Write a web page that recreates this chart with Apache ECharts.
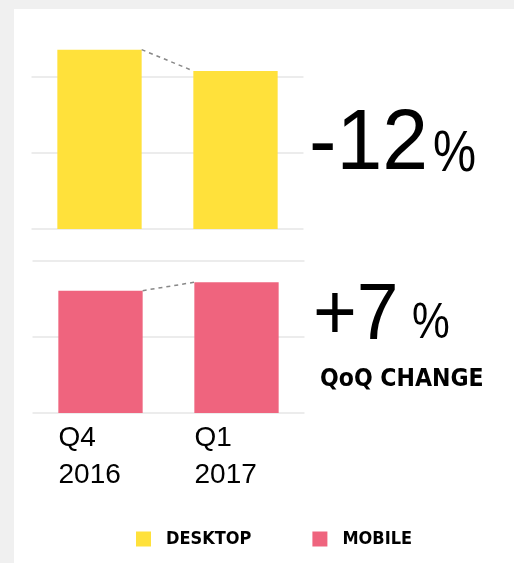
<!DOCTYPE html>
<html>
<head>
<meta charset="utf-8">
<script src="https://cdn.jsdelivr.net/npm/echarts@6/dist/echarts.min.js"></script>
<style>
html,body{margin:0;padding:0;background:#f0f0f0;width:514px;height:563px;overflow:hidden;}
#panel{position:absolute;left:14px;top:9px;width:500px;height:554px;background:#fff;}
#chart{position:absolute;left:0;top:0;width:514px;height:563px;}
</style>
</head>
<body>
<div id="panel"></div>
<div id="chart"></div>
<script>
// ---- data ----
const categories = ['Q4\n2016', 'Q1\n2017'];
const desktop = [2.36, 2.08];
const mobile = [1.61, 1.72];
const seriesNames = ['DESKTOP', 'MOBILE'];
const changeValues = ['-12', '+7'];
const changeCaption = 'QoQ CHANGE';

const YELLOW = '#FFE13B';
const PINK = '#EF647E';
const FONT = '"Liberation Sans", Arial, sans-serif';
const COND = '"Liberation Sans Narrow", "DejaVu Sans Condensed", "Liberation Sans", sans-serif';

function connector(gridIdx) {
  const vals = gridIdx ? mobile : desktop;
  return {
    type: 'custom',
    xAxisIndex: gridIdx, yAxisIndex: gridIdx,
    clip: false, silent: true, z: 3,
    encode: { x: 0, y: 1 },
    data: [[0, vals[0], vals[1]]],
    renderItem: function (params, api) {
      const p0 = api.coord([0, api.value(1)]);
      const p1 = api.coord([1, api.value(2)]);
      const half = api.size([1, 0])[0] * 0.31;
      return {
        type: 'line',
        shape: { x1: p0[0] + half, y1: p0[1], x2: p1[0] - half, y2: p1[1] },
        style: { stroke: '#888', lineWidth: 1.5, lineDash: [4, 4] }
      };
    }
  };
}

const yAxisBase = {
  type: 'value', min: 0, max: 2, interval: 1,
  axisLabel: { show: false }, axisLine: { show: false }, axisTick: { show: false },
  splitLine: { show: true, lineStyle: { color: '#e6e6e6', width: 1.5 } }
};

function bigText(x, y, sx, text, size) {
  return { type: 'text', x: x, y: y, scaleX: sx, silent: true,
    style: { text: text, fontSize: size, fontFamily: FONT, fill: '#000',
      align: 'left', verticalAlign: 'middle', textAlign: 'left', textVerticalAlign: 'middle' } };
}

const chart = echarts.init(document.getElementById('chart'), null, { renderer: 'canvas' });
chart.setOption({
  animation: false,
  backgroundColor: 'transparent',
  grid: [
    { left: 31.5, width: 272, top: 77, height: 152 },
    { left: 32.5, width: 272, top: 261, height: 152 }
  ],
  xAxis: [
    { type: 'category', gridIndex: 0, data: categories,
      axisLine: { show: false }, axisTick: { show: false }, axisLabel: { show: false } },
    { type: 'category', gridIndex: 1, data: categories,
      axisLine: { show: false }, axisTick: { show: false },
      axisLabel: {
        margin: 7,
        formatter: function (v) { return v.split('\n').map(s => '{a|' + s + '}').join('\n'); },
        rich: { a: { width: 84, align: 'left', fontSize: 28, lineHeight: 37, fontFamily: FONT, color: '#000' } }
      } }
  ],
  yAxis: [
    Object.assign({ gridIndex: 0 }, yAxisBase),
    Object.assign({ gridIndex: 1 }, yAxisBase)
  ],
  legend: {
    left: 136, top: 530, padding: 0, itemWidth: 15, itemHeight: 15, itemGap: 61, icon: 'rect',
    data: seriesNames, selectedMode: false,
    textStyle: { fontFamily: COND, fontWeight: 'bold', fontSize: 18, color: '#000',
      width: 81, padding: [0, 0, 0, 10], lineHeight: 15 }
  },
  series: [
    { name: seriesNames[0], type: 'bar', xAxisIndex: 0, yAxisIndex: 0, data: desktop,
      barWidth: '62%', clip: false, itemStyle: { color: YELLOW } },
    { name: seriesNames[1], type: 'bar', xAxisIndex: 1, yAxisIndex: 1, data: mobile,
      barWidth: '62%', clip: false, itemStyle: { color: PINK } },
    connector(0),
    connector(1)
  ],
  graphic: [
    bigText(309, 145.5, 0.97, changeValues[0], 85),
    bigText(433, 155, 0.85, '%', 57),
    bigText(313, 317, 0.95, changeValues[1], 79),
    bigText(412, 324, 0.85, '%', 50),
    { type: 'text', x: 320, y: 380, silent: true,
      style: { text: changeCaption, fontSize: 24.5, fontWeight: 'bold', fontFamily: COND, fill: '#000',
        align: 'left', verticalAlign: 'middle', textAlign: 'left', textVerticalAlign: 'middle' } }
  ]
});
</script>
</body>
</html>
